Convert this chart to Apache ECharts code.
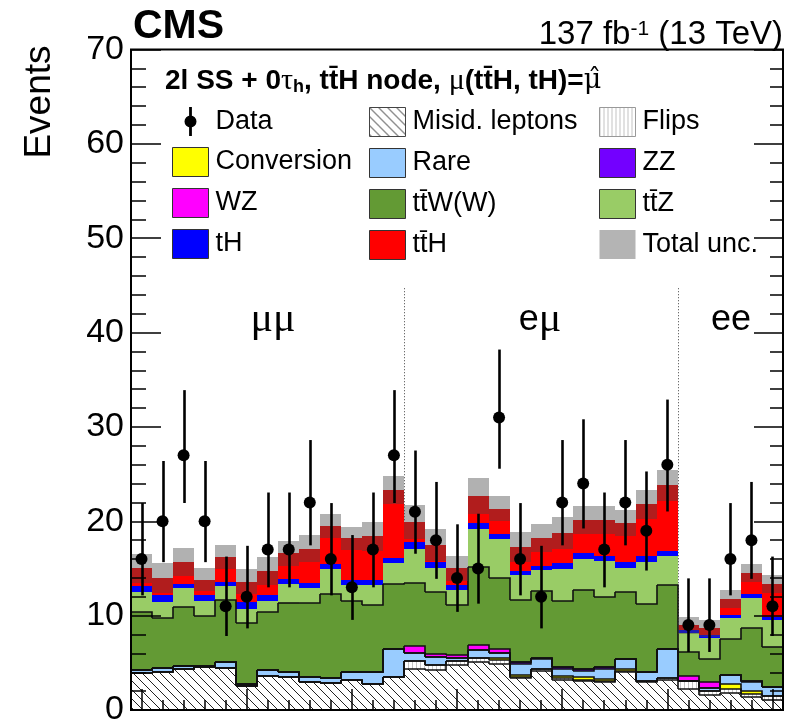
<!DOCTYPE html>
<html>
<head>
<meta charset="utf-8">
<script src="https://cdn.jsdelivr.net/npm/echarts@6/dist/echarts.min.js"></script>
<style>html,body{margin:0;padding:0;background:#fff;}#chart{width:789px;height:727px;}</style>
</head>
<body>
<div id="chart"></div>
<script>
// ---- data ----
const binLabels = ['1','2','3','4','5','6','7','8','9','10','11','12','13','14','15','16','17','18','19','20','21','22','23','24','25','26','27','28','29','30','31'];
const channelLabels = ['μμ', 'eμ', 'ee'];
const channelEdges = [12, 25]; // last bin index of the μμ and eμ blocks

const dataObs = [16,20,27,20,11,12,17,17,22,16,13,17,27,21,18,14,15,31,16,12,22,24,17,22,19,26,9,9,16,18,11];
const dataLo  = [12.15,15.67,21.94,15.67,7.84,8.65,13.0,13.0,17.45,12.15,9.55,13.0,21.94,16.56,13.9,10.4,11.27,25.57,12.15,8.65,17.45,19.24,13.0,17.45,14.78,21.04,6.15,6.15,12.15,13.9,7.84];
const dataHi  = [21.93,26.39,33.9,26.39,16.26,17.4,23.05,23.05,28.61,21.93,18.54,23.05,33.9,27.5,24.17,19.68,20.8,38.2,21.93,17.4,28.61,30.81,23.05,28.61,25.28,32.9,13.95,13.95,21.93,24.17,16.26];

const misid = [3.9,4.0,4.33,4.58,4.5,2.58,3.63,3.46,3.0,2.82,3.2,2.8,3.46,4.3,4.2,4.8,5.05,4.9,3.35,4.1,3.21,3.03,2.93,4.05,2.93,3.21,2.23,1.63,1.81,1.42,1.1];
const flips = [0,0,0,0,0,0,0,0,0,0,0,0,0,0.9,0.55,0.4,0.44,0.45,0.1,0.25,0.14,0.17,0.17,0.11,0.17,0.14,0.8,0.42,0.42,0.28,0.43];
const conversion = [0,0,0,0,0,0,0,0,0,0,0,0,0,0,0,0,0,0.14,0.25,0,0.28,0.26,0.18,0.17,0,0,0,0,0.52,0.35,0];
const rare = [0.3,0.45,0.35,0.1,0.6,0.17,0.6,0.52,0.53,0.57,0.78,1.18,3.05,0.85,0.88,0.36,0.84,0.53,1.16,1.1,0.7,0.7,1.05,1.12,0.88,3.1,0.07,0.25,0.95,0.88,0.87];
const zz = [0,0,0,0,0,0,0,0,0,0,0,0,0,0,0,0,0,0,0.2,0.05,0.18,0.17,0.18,0,0,0,0,0,0,0.18,0];
const wz = [0,0,0,0,0,0,0,0,0,0,0,0,0,0.7,0.35,0.25,0.57,0.42,0,0,0,0,0,0,0,0,0.5,0.63,0,0,0];
const ttw = [6.2,5.32,6.22,5.27,6.6,6.49,6.17,7.37,7.77,8.91,7.52,7.12,6.89,6.75,6.52,5.29,8.3,7.56,6.64,7.1,6.99,8.37,7.49,7.05,7.22,6.75,2.5,2.52,3.8,5.59,4.25];
const ttz = [2.1,1.68,2.0,1.65,1.4,1.51,1.2,2.0,1.6,2.6,1.8,2.1,2.2,3.6,2.6,1.65,4.0,4.1,2.6,2.2,3.4,3.3,3.8,2.6,4.5,3.1,2.1,2.2,2.2,3.2,2.9];
const th = [0.6,0.75,0.5,0.6,0.5,0.65,0.6,0.55,0.6,0.6,0.5,0.6,0.5,0.7,0.6,0.45,0.6,0.6,0.4,0.5,0.66,0.6,0.5,0.6,0.6,0.5,0.33,0.35,0.4,0.35,0.35];
const tth = [1.9,1.8,2.3,1.6,2.6,2.2,2.55,2.7,3.6,4.0,4.4,4.6,7.2,2.1,1.8,1.8,2.9,2.65,2.6,2.9,3.24,3.5,3.8,4.1,5.5,7.0,0.47,0.68,1.7,2.25,3.5];
const totalUnc = [1.5,1.55,1.5,1.2,1.3,1.3,1.5,1.3,1.4,1.3,1.2,1.5,1.45,1.8,1.7,1.3,1.9,1.3,1.6,1.5,1.7,1.5,1.5,1.4,1.55,1.65,0.9,0.9,0.95,0.95,0.95];

// ---- patterns ----
function makeHatch() {
  const s = 9, c = document.createElement('canvas');
  c.width = s; c.height = s;
  const g = c.getContext('2d');
  g.fillStyle = '#fff'; g.fillRect(0, 0, s, s);
  g.strokeStyle = '#222'; g.lineWidth = 1;
  g.beginPath();
  g.moveTo(0, 0); g.lineTo(s, s);
  g.moveTo(-1, s - 1); g.lineTo(1, s + 1);
  g.moveTo(s - 1, -1); g.lineTo(s + 1, 1);
  g.stroke();
  return { image: c, repeat: 'repeat' };
}
function makeVert() {
  const s = 4, c = document.createElement('canvas');
  c.width = s; c.height = s;
  const g = c.getContext('2d');
  g.fillStyle = '#fff'; g.fillRect(0, 0, s, s);
  g.fillStyle = '#c4c4c4'; g.fillRect(0, 0, 1, s);
  return { image: c, repeat: 'repeat' };
}
const hatch = makeHatch();
const vert = makeVert();

const components = [
  { name: 'Misid. leptons', values: misid, fill: hatch, outline: true },
  { name: 'Flips', values: flips, fill: vert, outline: true },
  { name: 'Conversion', values: conversion, fill: '#ffff00', outline: true },
  { name: 'Rare', values: rare, fill: '#99ccff', outline: true },
  { name: 'ZZ', values: zz, fill: '#7300ff', outline: true },
  { name: 'WZ', values: wz, fill: '#ff00ff', outline: true },
  { name: 'tt\u0304W(W)', values: ttw, fill: '#639a34', outline: true },
  { name: 'tt\u0304Z', values: ttz, fill: '#99cc66', outline: false },
  { name: 'tH', values: th, fill: '#0000ff', outline: false },
  { name: 'tt\u0304H', values: tth, fill: '#ff0000', outline: false }
];

function bandX(api, i) {
  const c = api.coord([i, 0]);
  const w = api.size([1, 0])[0];
  return [Math.round(c[0] - w / 2), Math.round(c[0] + w / 2)];
}

const series = [];
let running = binLabels.map(() => 0);
const outlineSeries = [];
components.forEach((comp) => {
  const bases = running.slice();
  const tops = running.map((r, i) => r + comp.values[i]);
  running = tops;
  const fill = comp.fill;
  series.push({
    type: 'custom', name: comp.name, z: 3, silent: true,
    itemStyle: { color: typeof fill === 'string' ? fill : '#ffffff' },
    encode: { x: 0, y: [1, 2] },
    data: bases.map((b, i) => [i, b, tops[i]]),
    renderItem: function (params, api) {
      const i = api.value(0);
      const xs = bandX(api, i);
      const y0 = Math.round(api.coord([i, api.value(1)])[1]);
      const y1 = Math.round(api.coord([i, api.value(2)])[1]);
      return { type: 'rect', shape: { x: xs[0], y: y1, width: xs[1] - xs[0], height: y0 - y1 }, style: { fill: fill } };
    }
  });
  if (comp.outline) {
    outlineSeries.push({
      type: 'custom', z: 4, silent: true,
      encode: { x: 0, y: [1, 2] },
      data: tops.map((t, i) => [i, t, i < tops.length - 1 ? tops[i + 1] : t]),
      renderItem: function (params, api) {
        const i = api.value(0);
        const xs = bandX(api, i);
        const y = Math.round(api.coord([i, api.value(1)])[1]);
        const yn = Math.round(api.coord([i, api.value(2)])[1]);
        return { type: 'polyline', shape: { points: [[xs[0], y], [xs[1], y], [xs[1], yn]] }, style: { stroke: '#111', lineWidth: 1.6, fill: null } };
      }
    });
  }
});
const totals = running;
series.push(...outlineSeries);

// separators between channels
series.push({
  type: 'custom', z: 2, silent: true,
  encode: { x: 0, y: [1, 2] },
  data: channelEdges.map(b => [b, 0, 44.7]),
  renderItem: function (params, api) {
    const i = api.value(0);
    const xs = bandX(api, i);
    const y0 = api.coord([i, api.value(1)])[1];
    const y1 = api.coord([i, api.value(2)])[1];
    return { type: 'line', shape: { x1: xs[1] + 0.5, y1: y1, x2: xs[1] + 0.5, y2: y0 }, style: { stroke: '#444', lineWidth: 1, lineDash: [1, 2] } };
  }
});

// total uncertainty band
series.push({
  type: 'custom', name: 'Total unc.', z: 5, silent: true,
  itemStyle: { color: '#b4b4b4' },
  encode: { x: 0, y: [1, 2] },
  data: totals.map((t, i) => [i, t - totalUnc[i], t + totalUnc[i]]),
  renderItem: function (params, api) {
    const i = api.value(0);
    const xs = bandX(api, i);
    const y0 = Math.round(api.coord([i, api.value(1)])[1]);
    const y1 = Math.round(api.coord([i, api.value(2)])[1]);
    return { type: 'rect', shape: { x: xs[0], y: y1, width: xs[1] - xs[0], height: y0 - y1 }, style: { fill: 'rgba(70,70,70,0.42)' } };
  }
});

// data error bars
series.push({
  type: 'custom', z: 6, silent: true,
  encode: { x: 0, y: [1, 2] },
  data: dataLo.map((lo, i) => [i, lo, dataHi[i]]),
  renderItem: function (params, api) {
    const i = api.value(0);
    const a = api.coord([i, api.value(1)]);
    const b = api.coord([i, api.value(2)]);
    const x = Math.round(a[0]) + 0.5;
    return { type: 'line', shape: { x1: x, y1: a[1], x2: x, y2: b[1] }, style: { stroke: '#000', lineWidth: 2.6 } };
  }
});
series.push({
  type: 'scatter', name: 'Data', z: 7, silent: true,
  symbol: 'circle', symbolSize: 12,
  itemStyle: { color: '#000', opacity: 1 },
  data: dataObs
});

const dataIcon = 'path://M4.6,0 L7.4,0 L7.4,8.7 L4.6,8.7 Z M4.6,20.3 L7.4,20.3 L7.4,29 L4.6,29 Z M0,14.5 A6,6 0 1,1 12,14.5 A6,6 0 1,1 0,14.5 Z';
const boxStyle = { borderColor: '#333', borderWidth: 1 };
const legendBase = {
  orient: 'vertical', itemWidth: 36, itemHeight: 29, itemGap: 11, padding: 0,
  selectedMode: false, icon: 'rect',
  textStyle: { fontFamily: 'Liberation Sans', fontSize: 27, color: '#000', padding: [0, 0, 0, 2] }
};

const legendCols = [
  { left: 172, data: [
    { name: 'Data', icon: dataIcon, itemStyle: { color: '#000', borderWidth: 0, opacity: 1 } },
    { name: 'Conversion', itemStyle: boxStyle },
    { name: 'WZ', itemStyle: boxStyle },
    { name: 'tH', itemStyle: boxStyle } ] },
  { left: 369, data: [
    { name: 'Misid. leptons', itemStyle: { color: hatch, borderColor: '#444', borderWidth: 1 } },
    { name: 'Rare', itemStyle: boxStyle },
    { name: 'tt\u0304W(W)', itemStyle: boxStyle },
    { name: 'tt\u0304H', itemStyle: boxStyle } ] },
  { left: 599, data: [
    { name: 'Flips', itemStyle: { color: vert, borderColor: '#999', borderWidth: 1 } },
    { name: 'ZZ', itemStyle: boxStyle },
    { name: 'tt\u0304Z', itemStyle: boxStyle },
    { name: 'Total unc.', itemStyle: { color: '#b4b4b4', borderWidth: 0 } } ] }
].map(c => Object.assign({}, legendBase, { left: c.left, top: 107, data: c.data }));

const tickStyle = { color: '#000', width: 1.5 };
const option = {
  animation: false,
  backgroundColor: '#fff',
  grid: { left: 131, right: 6, top: 49.5, bottom: 12.5, show: true, borderColor: '#000', borderWidth: 2, backgroundColor: 'transparent', z: 10 },
  legend: legendCols,
  xAxis: [
    { type: 'category', data: binLabels, boundaryGap: true, z: 10,
      axisLine: { show: false }, axisLabel: { show: false }, splitLine: { show: false },
      axisTick: { show: true, inside: true, alignWithLabel: true, interval: 0, length: 10, lineStyle: tickStyle } },
    { type: 'category', data: binLabels, boundaryGap: true, z: 10, position: 'bottom',
      axisLine: { show: false }, axisLabel: { show: false }, splitLine: { show: false },
      axisTick: { show: true, inside: true, alignWithLabel: true, interval: function (idx) { return idx % 5 === 0; }, length: 21, lineStyle: tickStyle } }
  ],
  yAxis: [
    { type: 'value', min: 0, max: 70, interval: 10, z: 10,
      axisLine: { show: false }, splitLine: { show: false },
      axisLabel: { fontFamily: 'Liberation Sans', fontSize: 34, color: '#000', margin: 7 },
      axisTick: { show: true, inside: true, length: 30, lineStyle: tickStyle },
      minorTick: { show: true, splitNumber: 5, length: 15, lineStyle: tickStyle } },
    { type: 'value', min: 0, max: 70, interval: 10, position: 'right', z: 10,
      axisLine: { show: false }, splitLine: { show: false }, axisLabel: { show: false },
      axisTick: { show: true, inside: true, length: 29, lineStyle: tickStyle },
      minorTick: { show: true, splitNumber: 5, length: 13, lineStyle: tickStyle } }
  ],
  series: series,
  graphic: [
    { type: 'text', x: 133, y: 27, style: { text: 'CMS', font: 'bold 41px "Liberation Sans"', fill: '#000', align: 'left', verticalAlign: 'middle' } },
    { type: 'text', x: 783, y: 35, style: {
        text: '137 fb{sup|-1} (13 TeV)', font: '33px "Liberation Sans"', fill: '#000', align: 'right', verticalAlign: 'middle',
        rich: { sup: { fontFamily: 'Liberation Sans', fontSize: 21, verticalAlign: 'top', fill: '#000' } } } },
    { type: 'text', x: 40, y: 102, rotation: Math.PI / 2, style: { text: 'Events', font: '37px "Liberation Sans"', fill: '#000', align: 'center', verticalAlign: 'middle' } },
    { type: 'text', x: 165, y: 81, style: {
        text: '{b|2l SS + 0}{g|τ}{sub|h}{b|, tt\u0304H node, }{g|μ}{b|(tt\u0304H, tH)=}{h|μ\u0302}',
        align: 'left', verticalAlign: 'middle',
        rich: {
          b: { fontFamily: 'Liberation Sans', fontWeight: 'bold', fontSize: 28, fill: '#000' },
          g: { fontFamily: 'Liberation Serif', fontSize: 30, fill: '#000' },
          h: { fontFamily: 'DejaVu Serif', fontSize: 27, fill: '#000' },
          sub: { fontFamily: 'Liberation Sans', fontWeight: 'bold', fontSize: 18, lineHeight: 14, verticalAlign: 'bottom', fill: '#000' }
        } } },
    { type: 'text', x: 273, y: 320, style: { text: '{m|' + channelLabels[0] + '}', align: 'center', verticalAlign: 'middle',
        rich: { m: { fontFamily: 'Liberation Serif', fontSize: 42, fill: '#000' } } } },
    { type: 'text', x: 540, y: 320, style: { text: '{s|e}{m|μ}', align: 'center', verticalAlign: 'middle',
        rich: { s: { fontFamily: 'Liberation Sans', fontSize: 36, fill: '#000' }, m: { fontFamily: 'Liberation Serif', fontSize: 42, fill: '#000' } } } },
    { type: 'text', x: 731, y: 320, style: { text: channelLabels[2], font: '36px "Liberation Sans"', fill: '#000', align: 'center', verticalAlign: 'middle' } }
  ]
};

const chart = echarts.init(document.getElementById('chart'), null, { renderer: 'canvas' });
chart.setOption(option);
</script>
</body>
</html>
